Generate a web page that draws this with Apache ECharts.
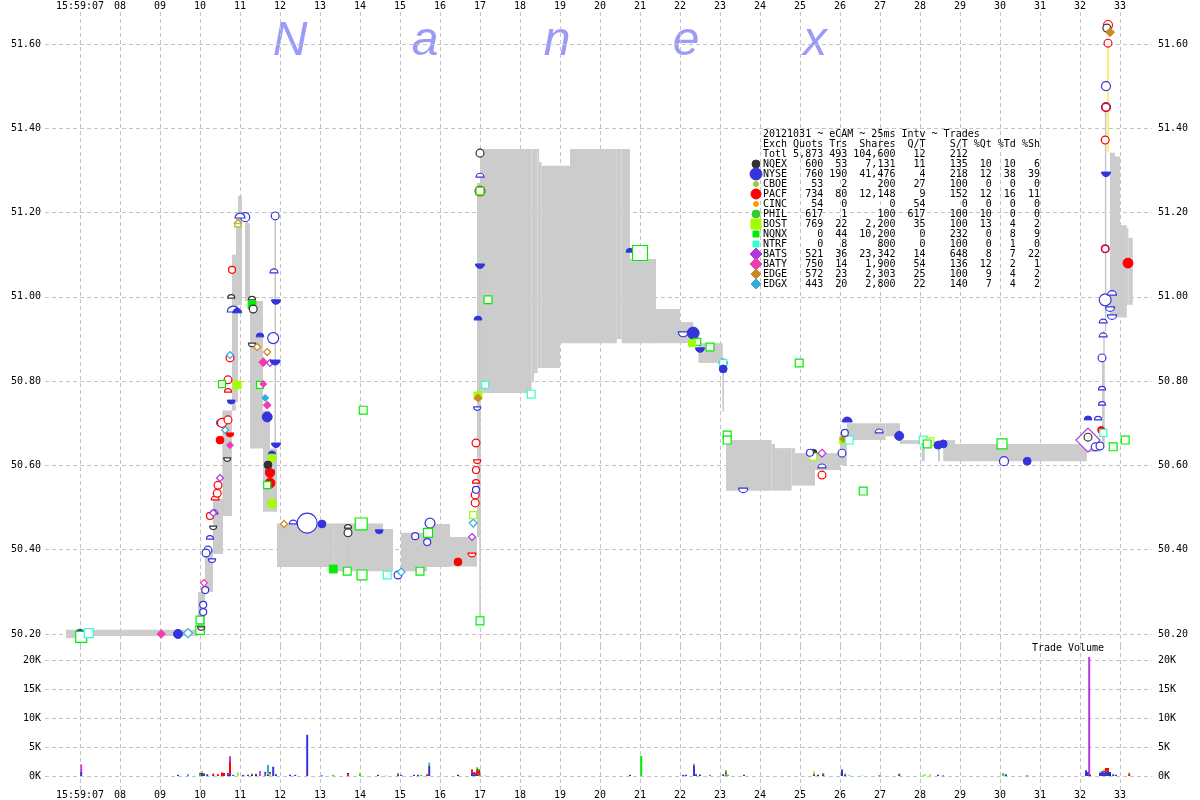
<!DOCTYPE html>
<html><head><meta charset="utf-8">
<script src="https://cdn.jsdelivr.net/npm/echarts@6/dist/echarts.min.js"></script>
<style>html,body{margin:0;padding:0;background:#fff}#c{width:1200px;height:800px}</style>
</head><body><div id="c"></div><script>
// ---------------- data ----------------
const exchanges = ['NQEX','NYSE','CBOE','PACF','CINC','PHIL','BOST','NQNX','NTRF','BATS','BATY','EDGE','EDGX'];
const secondTicks = [7,8,9,10,11,12,13,14,15,16,17,18,19,20,21,22,23,24,25,26,27,28,29,30,31,32,33];
const secondLabels = ['15:59:07','08','09','10','11','12','13','14','15','16','17','18','19','20','21','22','23','24','25','26','27','28','29','30','31','32','33'];
const priceTicks = [50.2,50.4,50.6,50.8,51.0,51.2,51.4,51.6];
const volumeTicks = [0,5000,10000,15000,20000];
const volumeTickLabels = ['0K','5K','10K','15K','20K'];

// NBBO spread spans: [startSecond, endSecond, bid, ask]
const nbboSpans = [
 [6.65,7.0,50.19,50.21],[7.0,9.95,50.195,50.21],[9.95,10.125,50.20,50.30],[10.125,10.325,50.30,50.40],
 [10.325,10.575,50.39,50.52],[10.575,10.8,50.48,50.73],[10.8,10.9,50.73,51.10],[10.9,10.95,50.75,51.20],[10.95,11.05,50.98,51.24],
 [11.125,11.25,50.99,51.175],[11.25,11.575,50.64,50.99],[11.575,11.75,50.49,50.73],[11.75,11.925,50.49,50.64],
 [11.925,13.33,50.359,50.462],[13.33,14.575,50.349,50.462],[14.575,14.825,50.349,50.449],
 [15.025,15.675,50.349,50.44],[15.675,16.25,50.359,50.461],[16.25,16.925,50.36,50.43],
 [16.925,17.0,50.43,51.27],[17.0,18.29,50.772,51.351],[18.29,18.35,50.798,51.351],[18.35,18.44,50.819,51.351],
 [18.44,18.475,50.831,51.351],[18.475,18.54,50.831,51.32],[18.54,19.0,50.831,51.311],[19.0,19.25,50.89,51.311],
 [19.25,20.42,50.89,51.351],[20.42,20.54,50.90,51.351],[20.54,20.75,50.89,51.351],[20.75,21.4,50.89,51.09],
 [21.4,22.0,50.89,50.971],[22.0,22.33,50.89,50.94],[22.33,22.46,50.89,50.91],[22.46,23.07,50.843,50.89],
 [23.15,24.29,50.54,50.66],[24.29,24.375,50.54,50.651],[24.375,24.79,50.54,50.641],[24.79,24.875,50.552,50.641],
 [24.875,25.375,50.552,50.629],[25.375,26.0,50.589,50.629],[26.0,26.17,50.60,50.66],[26.17,27.14,50.66,50.70],
 [27.14,27.5,50.669,50.70],[27.5,28.0,50.651,50.66],[28.04,28.12,50.61,50.66],[28.45,28.5,50.61,50.66],
 [28.58,28.875,50.61,50.66],[28.875,32.17,50.61,50.651],[32.17,32.5,50.632,50.651],[32.55,32.6,50.65,50.85],
 [32.75,32.875,50.951,51.342],[32.875,33.0,50.951,51.333],[33.0,33.17,50.951,51.17],[33.17,33.21,50.981,51.163],
 [33.21,33.32,50.981,51.14]
];
// thin quote connector lines: [second, low, high]
const quoteLines = [[11.88,50.52,51.19],[11.18,51.0,51.19],[10.58,50.49,50.73],[13.7,50.36,50.44],[17.0,50.23,51.08],
 [23.08,50.727,50.83],[32.64,50.92,51.44],[32.6,50.65,50.92]];
const spikeLine = [32.7,51.344,51.602];

// quotes & trades: [second, price, exchangeIndex, kind, lots]
// kind: T trade, Q quote, A ask (filled top), B bid (filled bottom), a/b unfilled halves
const tradePoints = [
 [7.0,50.202,1,'A',2],[7.03,50.193,7,'Q',9],[7.22,50.202,8,'Q',4],[9.03,50.20,10,'T',3],[9.45,50.20,1,'T',4],
 [9.70,50.202,12,'Q',4],[10.0,50.209,7,'Q',3],[10.0,50.233,7,'Q',2],[10.03,50.217,0,'b',1],[10.08,50.269,1,'Q',1],
 [10.08,50.252,1,'Q',1],[10.13,50.304,1,'Q',1],[10.10,50.321,10,'Q',1],[10.2,50.399,1,'Q',2],[10.15,50.392,1,'Q',2],
 [10.25,50.425,1,'a',1],[10.3,50.378,1,'b',1],[10.33,50.456,0,'b',1],[10.35,50.485,1,'a',2],[10.25,50.48,3,'Q',1],
 [10.33,50.487,9,'Q',1],[10.38,50.518,3,'a',2],[10.45,50.553,3,'Q',2],[10.43,50.534,3,'Q',2],[10.5,50.57,9,'Q',1],
 [10.68,50.618,0,'b',1],[10.5,50.66,3,'T',2],[10.75,50.648,10,'T',1],[10.63,50.684,12,'Q',1],[10.75,50.677,3,'B',2],
 [10.5,50.701,1,'T',1],[10.55,50.701,3,'Q',4],[10.7,50.708,3,'Q',2],[10.78,50.755,1,'B',2],[10.7,50.774,3,'a',1],
 [10.7,50.803,3,'Q',2],[10.55,50.793,7,'Q',1],[10.93,50.791,6,'T',2],[10.75,50.855,3,'Q',2],[10.75,50.862,12,'Q',1],
 [10.83,50.964,1,'a',12],[10.93,50.962,1,'A',4],[10.78,50.997,0,'a',1],[10.8,51.064,3,'Q',1],[11.13,51.189,1,'Q',4],
 [11.0,51.187,1,'a',6],[10.95,51.175,11,'Q',1],[10.95,51.166,2,'a',1],[11.3,50.993,0,'a',1],[11.3,50.981,7,'T',2],
 [11.33,50.971,0,'Q',2],[11.5,50.905,1,'A',2],[11.83,50.902,1,'Q',9],[11.3,50.89,0,'b',1],[11.43,50.881,11,'Q',1],
 [11.68,50.869,11,'Q',1],[11.58,50.845,10,'T',4],[11.75,50.843,9,'Q',1],[11.88,50.85,1,'B',6],[11.85,51.057,1,'a',2],
 [11.88,51.192,1,'Q',2],[11.9,50.993,1,'B',4],[11.5,50.791,7,'Q',1],[11.58,50.793,10,'T',1],[11.63,50.76,12,'T',1],
 [11.68,50.743,10,'T',2],[11.68,50.715,1,'T',6],[11.9,50.653,1,'B',4],[11.8,50.625,1,'A',2],[11.8,50.618,6,'T',1],
 [11.7,50.601,0,'T',2],[11.75,50.589,1,'B',4],[11.75,50.582,3,'T',4],[11.75,50.558,3,'T',6],[11.68,50.553,7,'Q',1],
 [11.8,50.513,1,'B',2],[11.8,50.51,6,'T',2],[12.1,50.461,11,'Q',1],[12.33,50.461,1,'a',2],[12.68,50.463,1,'Q',56],
 [13.05,50.461,1,'T',2],[13.7,50.451,0,'a',1],[13.7,50.44,0,'Q',2],[14.03,50.461,7,'Q',12],[14.48,50.447,1,'B',2],
 [13.33,50.354,7,'T',2],[13.68,50.349,7,'Q',2],[14.05,50.34,7,'Q',6],[14.68,50.34,8,'Q',2],[14.95,50.34,1,'Q',2],
 [15.03,50.347,12,'Q',2],[15.38,50.432,1,'Q',1],[15.68,50.418,1,'Q',1],[15.75,50.463,1,'Q',6],[15.7,50.44,7,'Q',4],
 [15.5,50.349,7,'Q',2],[16.45,50.371,3,'T',2],[16.8,50.392,3,'b',2],[16.8,50.43,9,'b',1],[16.83,50.463,12,'Q',2],
 [16.83,50.482,6,'Q',1],[16.88,50.511,3,'Q',2],[16.88,50.53,3,'Q',2],[16.9,50.542,1,'Q',1],[16.9,50.558,3,'a',1],
 [16.9,50.589,3,'Q',1],[16.9,50.653,3,'Q',2],[16.93,50.613,3,'b',1],[17.0,50.231,7,'Q',2],[16.93,50.739,1,'b',1],
 [16.95,50.765,6,'T',2],[16.95,50.76,11,'T',2],[17.13,50.791,8,'Q',1],[16.95,50.945,1,'A',2],[17.0,51.078,1,'B',4],
 [17.2,50.993,7,'Q',2],[17.0,51.251,3,'Q',6],[17.0,51.251,7,'Q',2],[17.0,51.284,1,'a',2],[17.0,51.341,0,'Q',2],
 [18.28,50.769,8,'Q',2],[20.75,51.106,1,'A',2],[21.0,51.104,7,'Q',25],[22.08,50.917,1,'b',6],[22.33,50.914,1,'T',12],
 [22.5,50.879,1,'B',4],[22.43,50.893,7,'Q',1],[22.3,50.89,6,'T',1],[22.75,50.881,7,'Q',2],[23.08,50.843,1,'Q',2],
 [23.08,50.843,8,'Q',1],[23.08,50.829,1,'T',2],[24.98,50.843,7,'Q',2],[23.18,50.672,7,'Q',2],[23.18,50.66,7,'Q',2],
 [23.58,50.546,1,'b',4],[25.33,50.629,0,'T',2],[25.55,50.629,9,'Q',2],[25.33,50.62,6,'Q',1],[25.25,50.63,1,'Q',1],
 [25.55,50.594,1,'a',2],[25.55,50.577,3,'Q',2],[26.58,50.539,7,'Q',2],[26.18,50.703,1,'A',6],[26.08,50.66,6,'T',1],
 [26.08,50.663,11,'T',1],[26.23,50.66,8,'Q',2],[26.05,50.629,1,'Q',2],[26.12,50.677,1,'Q',1],[26.98,50.677,1,'a',2],
 [27.48,50.67,1,'T',4],[28.08,50.66,8,'Q',2],[28.25,50.656,6,'Q',2],[28.18,50.651,7,'Q',2],[28.45,50.648,1,'T',2],
 [28.58,50.651,1,'T',2],[30.05,50.651,7,'Q',6],[30.1,50.61,1,'Q',4],[30.68,50.61,1,'T',2],[32.2,50.66,9,'Q',90],
 [32.2,50.667,0,'Q',2],[32.2,50.708,1,'A',2],[32.45,50.708,1,'a',1],[32.38,50.644,1,'Q',2],[32.5,50.646,1,'Q',2],
 [32.53,50.684,3,'T',1],[32.58,50.677,8,'Q',1],[32.83,50.644,7,'Q',2],[33.13,50.66,7,'Q',2],[32.55,50.743,1,'a',1],
 [32.55,50.779,1,'a',1],[32.55,50.855,1,'Q',2],[32.58,50.905,1,'a',2],[32.58,50.938,1,'a',2],[32.63,50.993,1,'Q',12],
 [32.8,51.004,1,'a',4],[32.75,50.976,1,'b',4],[32.8,50.957,1,'b',4],[33.2,51.08,3,'T',6],[32.63,51.114,1,'Q',2],
 [32.63,51.114,3,'Q',1],[32.65,51.296,1,'B',4],[32.63,51.372,3,'Q',2],[32.65,51.45,1,'Q',4],[32.65,51.45,3,'Q',2],
 [32.65,51.50,1,'Q',4],[32.7,51.602,3,'Q',2],[32.7,51.645,3,'Q',4],[32.67,51.638,0,'Q',2],[32.75,51.628,11,'T',4],
 [14.08,50.731,7,'Q',2]
];

// trade volume: [second, exchangeIndex, shares]
const tradeVolume = [
 [7.03,1,700],[7.03,9,600],[7.03,10,700],[9.45,1,200],[9.7,12,300],[10.0,7,300],[10.0,3,200],[10.05,1,500],[10.05,6,200],
 [10.05,11,100],[10.1,1,400],[10.1,5,100],[10.18,1,300],[10.33,3,400],[10.45,3,300],[10.55,3,600],[10.6,3,500],
 [10.7,1,300],[10.7,3,200],[10.75,1,400],[10.75,3,2000],[10.75,9,1000],[10.83,1,200],[10.95,6,400],[10.95,2,200],
 [11.08,1,200],[11.2,1,200],[11.3,0,300],[11.3,6,200],[11.4,0,200],[11.4,1,200],[11.5,10,400],[11.5,9,200],[11.5,1,200],
 [11.63,9,400],[11.63,1,300],[11.7,1,300],[11.7,6,200],[11.7,12,1400],[11.75,6,400],[11.75,1,300],[11.83,1,1600],
 [11.9,1,300],[12.25,1,200],[12.38,1,200],[12.68,1,7100],[13.05,1,100],[13.33,7,200],[13.7,3,300],[13.7,0,200],
 [14.0,7,400],[14.0,6,200],[14.45,1,200],[14.65,8,100],[14.95,1,300],[14.95,11,200],[15.03,1,200],[15.35,1,200],
 [15.45,1,200],[15.53,7,200],[15.68,3,300],[15.73,1,1800],[15.73,7,300],[15.73,12,200],[16.45,0,200],[16.8,1,600],
 [16.8,3,500],[16.85,1,300],[16.85,3,200],[16.85,9,200],[16.9,3,400],[16.9,1,200],[16.93,1,300],[16.93,3,900],
 [16.93,7,300],[16.98,3,700],[16.98,0,300],[16.98,7,200],[17.0,7,200],[17.13,8,100],[18.25,8,100],[20.75,1,200],
 [21.03,7,3500],[22.08,1,200],[22.15,1,200],[22.35,1,1800],[22.35,9,100],[22.35,11,200],[22.4,1,300],[22.5,1,200],
 [22.5,5,100],[22.75,7,200],[23.08,1,300],[23.15,7,300],[23.15,3,200],[23.15,10,200],[23.15,5,300],[23.2,7,200],
 [23.6,1,200],[25.35,1,300],[25.35,9,100],[25.35,6,400],[25.45,0,200],[25.58,0,300],[25.58,10,200],[26.05,1,1100],
 [26.13,1,300],[26.13,6,200],[26.23,8,200],[26.55,6,100],[26.98,1,100],[27.48,1,300],[27.48,3,100],[28.08,8,200],
 [28.13,6,300],[28.25,6,300],[28.45,1,200],[28.58,1,100],[30.08,7,400],[30.08,5,100],[30.15,1,300],[30.68,1,100],
 [32.15,1,1000],[32.2,1,700],[32.23,9,20500],[32.25,0,200],[32.5,1,600],[32.5,6,200],[32.55,1,700],[32.55,12,200],
 [32.6,1,600],[32.6,3,300],[32.6,6,300],[32.65,1,800],[32.65,3,600],[32.7,1,900],[32.7,3,500],[32.75,0,500],
 [32.75,1,200],[32.83,1,300],[32.9,1,200],[33.23,3,400],[33.23,5,200]
];

// summary table
const tableTitle = '20121031 ~ eCAM ~ 25ms Intv ~ Trades';
const tableColumns = ['Exch','Quots','Trs','Shares','Q/T','S/T','%Qt','%Td','%Sh'];
const tableTotals = ['Totl','5,873','493','104,600','12','212','','',''];
const tableQuots = ['600','760','53','734','54','617','769','0','0','521','750','572','443'];
const tableTrs = ['53','190','2','80','0','1','22','44','8','36','14','23','20'];
const tableShares = ['7,131','41,476','200','12,148','0','100','2,200','10,200','800','23,342','1,900','2,303','2,800'];
const tableQT = ['11','4','27','9','54','617','35','0','0','14','54','25','22'];
const tableST = ['135','218','100','152','0','100','100','232','100','648','136','100','140'];
const tablePctQt = ['10','12','0','12','0','10','13','0','0','8','12','9','7'];
const tablePctTd = ['10','38','0','16','0','0','4','8','1','7','2','4','4'];
const tablePctSh = ['6','39','0','11','0','0','2','9','0','22','1','2','2'];

// ---------------- styling ----------------
const exchangeColors = ['#333333','#3434dc','#99cc33','#ff0000','#ff9900','#33cc33','#a0ff00','#00ee00','#33ffcc','#b038dc','#f03cb4','#cc8822','#33aadd'];
const exchangeShapes = ['circle','circle','circle','circle','circle','circle','square','square','square','diamond','diamond','diamond','diamond'];
const legendRadius = [4,6,2.5,5,2.5,4,5,3,3,6,6,5,5];
const MONO = '"DejaVu Sans Mono", monospace';

const chart = echarts.init(document.getElementById('c'));

const gridLine = {show:true, lineStyle:{color:'#c4c4c4', type:[4,3], width:1}};
const labelFont = {fontFamily: MONO, fontSize: 10, color:'#000'};
function secLabel(v){ const i = secondTicks.indexOf(Math.round(v)); return i >= 0 ? secondLabels[i] : ''; }

const xBase = {type:'value', min:6.125, max:33.8, axisLine:{show:false},
  axisTick:{show:false, customValues: secondTicks}, splitLine: gridLine};

const yPriceBase = {type:'value', gridIndex:0, min:50.1714, max:51.6759, axisLine:{show:false},
  axisTick:{show:false, customValues: priceTicks}};
const yVolBase = {type:'value', gridIndex:1, min:-2414, max:22414, axisLine:{show:false},
  axisTick:{show:false, customValues: volumeTicks}};
function volLabel(v){ const i = volumeTicks.indexOf(Math.round(v)); return i>=0 ? volumeTickLabels[i] : ''; }

// volume stacking
const stackBase = {};
const volumeRects = tradeVolume.map(d => {
  const key = d[0].toFixed(3);
  const b = stackBase[key] || 0;
  stackBase[key] = b + d[2];
  return [d[0], b, b + d[2], d[1]];
});

function symbolShape(cx, cy, r, ex, kind){
  const color = exchangeColors[ex];
  const filled = kind === 'T' || kind === 'A' || kind === 'B';
  const style = filled ? {fill: color, stroke: color, lineWidth: 1} : {fill: '#ffffff', stroke: color, lineWidth: 1.2};
  const shp = exchangeShapes[ex];
  if (shp === 'circle') {
    if (kind === 'T' || kind === 'Q') return {type:'circle', shape:{cx, cy, r}, style};
    const top = (kind === 'A' || kind === 'a');
    return {type:'sector', shape:{cx, cy, r0:0, r, startAngle: top ? Math.PI : 0, endAngle: top ? 2*Math.PI : Math.PI, clockwise:true}, style};
  }
  if (shp === 'square') return {type:'rect', shape:{x: cx - r, y: cy - r, width: 2*r, height: 2*r}, style};
  return {type:'polygon', shape:{points:[[cx, cy - r],[cx + r, cy],[cx, cy + r],[cx - r, cy]]}, style};
}

// graphics: watermark, table, legend symbols
const graphics = [];
const wmLetters = ['N','a','n','e','x'];
const wmX = [290, 425, 557, 686, 815];
wmLetters.forEach((ch, i) => graphics.push({type:'text', x: wmX[i], y: 42, z: 0,
  style:{text: ch, font:'italic 48px "Liberation Sans", Arial, sans-serif', fill:'#9a9af8', align:'center', verticalAlign:'middle'}}));

const colEnds = [10,14,22,27,34,38,42,46];
function tableRow(cells){
  let s = cells[0].padEnd(4, ' ');
  for (let j = 1; j < cells.length; j++) {
    const v = cells[j];
    if (!v) continue;
    const pad = Math.max(1, colEnds[j-1] - s.length - v.length);
    s += ' '.repeat(pad) + v;
  }
  return s;
}
const tableLines = [tableTitle, tableRow(tableColumns), tableRow(tableTotals)];
exchanges.forEach((e, i) => tableLines.push(tableRow([e, tableQuots[i], tableTrs[i], tableShares[i], tableQT[i], tableST[i], tablePctQt[i], tablePctTd[i], tablePctSh[i]])));
tableLines.forEach((line, i) => graphics.push({type:'text', x: 763, y: 134 + 10*i, z: 10,
  style:{text: line, font:'10px ' + MONO, fill:'#000', align:'left', verticalAlign:'middle'}}));
exchanges.forEach((e, i) => {
  const cy = 134 + 10*(i + 3), cx = 756, r = legendRadius[i];
  const g = symbolShape(cx, cy, r, i, 'T');
  g.z = 10;
  graphics.push(g);
});
graphics.push({type:'text', x: 1068, y: 648, z: 10, style:{text:'Trade Volume', font:'10px ' + MONO, fill:'#000', align:'center', verticalAlign:'middle'}});

const option = {
  animation: false,
  backgroundColor: '#ffffff',
  grid: [
    {left: 45, right: 48, top: 12, height: 634},
    {left: 45, right: 48, top: 646, height: 144}
  ],
  xAxis: [
    Object.assign({}, xBase, {gridIndex:0, position:'top', axisLabel: Object.assign({customValues: secondTicks, formatter: secLabel, margin: 1}, labelFont)}),
    Object.assign({}, xBase, {gridIndex:1, position:'bottom', axisLabel: Object.assign({customValues: secondTicks, formatter: secLabel, margin: 0}, labelFont)})
  ],
  yAxis: [
    Object.assign({}, yPriceBase, {position:'left', splitLine: gridLine, axisLabel: Object.assign({customValues: priceTicks, formatter: v => v.toFixed(2), margin: 4}, labelFont)}),
    Object.assign({}, yPriceBase, {position:'right', splitLine:{show:false}, axisLabel: Object.assign({customValues: priceTicks, formatter: v => v.toFixed(2), margin: 6}, labelFont)}),
    Object.assign({}, yVolBase, {position:'left', splitLine: gridLine, axisLabel: Object.assign({customValues: volumeTicks, formatter: volLabel, margin: 4}, labelFont)}),
    Object.assign({}, yVolBase, {position:'right', splitLine:{show:false}, axisLabel: Object.assign({customValues: volumeTicks, formatter: volLabel, margin: 6}, labelFont)})
  ],
  graphic: graphics,
  series: [
    { type:'custom', name:'NBBO', xAxisIndex:0, yAxisIndex:0, silent:true, z:2,
      data: nbboSpans, encode:{x:[0,1], y:[2,3]},
      renderItem(params, api){
        const a = api.coord([api.value(0), api.value(3)]);
        const b = api.coord([api.value(1), api.value(2)]);
        return {type:'rect', shape:{x:a[0], y:a[1], width:Math.max(b[0]-a[0], 1.5), height:b[1]-a[1]}, style:{fill:'#cccccc'}};
      }
    },
    { type:'custom', name:'Quote lines', xAxisIndex:0, yAxisIndex:0, silent:true, z:3,
      data: quoteLines, encode:{x:0, y:[1,2]},
      renderItem(params, api){
        const a = api.coord([api.value(0), api.value(1)]);
        const b = api.coord([api.value(0), api.value(2)]);
        return {type:'line', shape:{x1:a[0], y1:a[1], x2:b[0], y2:b[1]}, style:{stroke:'#c8c8c8', lineWidth:1.5}};
      }
    },
    { type:'custom', name:'Spike', xAxisIndex:0, yAxisIndex:0, silent:true, z:3,
      data: [spikeLine], encode:{x:0, y:[1,2]},
      renderItem(params, api){
        const a = api.coord([api.value(0), api.value(1)]);
        const b = api.coord([api.value(0), api.value(2)]);
        return {type:'line', shape:{x1:a[0], y1:a[1], x2:b[0], y2:b[1]}, style:{stroke:'#f0f040', lineWidth:1.5}};
      }
    },
    { type:'custom', name:'Quotes/Trades', xAxisIndex:0, yAxisIndex:0, silent:true, z:4,
      data: tradePoints.map(d => [d[0], d[1]]), encode:{x:0, y:1},
      renderItem(params, api){
        const d = tradePoints[params.dataIndex];
        const c = api.coord([d[0], d[1]]);
        const r = (5 + 2*Math.sqrt(d[4])) / 2;
        return symbolShape(c[0], c[1], r, d[2], d[3]);
      }
    },
    { type:'custom', name:'Volume', xAxisIndex:1, yAxisIndex:2, silent:true, z:4,
      data: volumeRects, encode:{x:0, y:[1,2]},
      renderItem(params, api){
        const d = volumeRects[params.dataIndex];
        const p0 = api.coord([d[0], d[1]]);
        const p1 = api.coord([d[0], d[2]]);
        return {type:'rect', shape:{x:p0[0]-1, y:p1[1], width:2, height:Math.max(p0[1]-p1[1], 0.8)}, style:{fill: exchangeColors[d[3]]}};
      }
    }
  ]
};
chart.setOption(option);
</script></body></html>
